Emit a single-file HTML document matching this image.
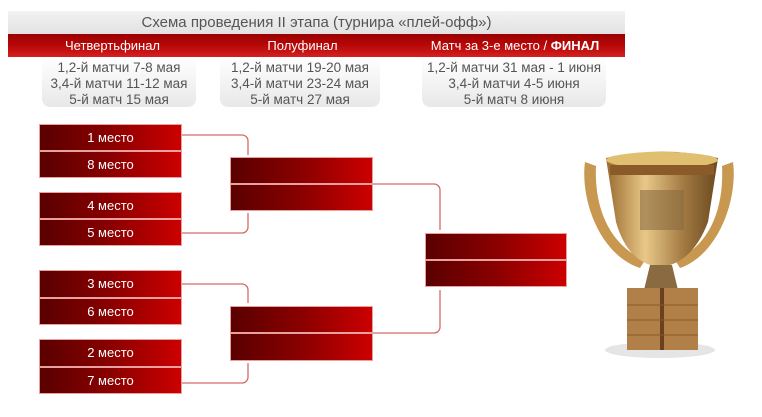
<!DOCTYPE html>
<html><head><meta charset="utf-8"><style>
body{margin:0;width:762px;height:417px;background:#fff;position:relative;overflow:hidden;font-family:"Liberation Sans",sans-serif}
.a{position:absolute}
.b{position:absolute;background:linear-gradient(90deg,#5a0000,#8a0000 50%,#cc0000);border:1px solid #e9a0a0;box-sizing:border-box;color:#fff;font-size:13px;text-align:center;line-height:25px}
.t{position:absolute;top:57px;height:50px;background:linear-gradient(180deg,#fff,#e8e8e8);border-radius:0 0 8px 8px;color:#555;font-size:13.5px;text-align:center;line-height:16px;padding-top:3px;box-sizing:border-box;white-space:nowrap}
.h{position:absolute;top:34px;height:23px;color:#fff;font-size:13px;line-height:23px;text-align:center}
</style></head><body>
<div class="a" style="left:8px;top:11px;width:617px;height:23px;background:linear-gradient(180deg,#f2f2f2,#e2e2e2);color:#555;font-size:15px;line-height:23px;text-align:center">Схема проведения II этапа (турнира «плей-офф»)</div>
<div class="a" style="left:8px;top:34px;width:617px;height:23px;background:linear-gradient(180deg,#9a0000,#b80808 50%,#d42020)"></div>
<div class="h" style="left:20px;width:185px">Четвертьфинал</div>
<div class="h" style="left:210px;width:185px">Полуфинал</div>
<div class="h" style="left:405px;width:220px">Матч за 3-е место / <b>ФИНАЛ</b></div>
<div class="t" style="left:42px;width:154px">1,2-й матчи 7-8 мая<br>3,4-й матчи 11-12 мая<br>5-й матч 15 мая</div>
<div class="t" style="left:220px;width:160px">1,2-й матчи 19-20 мая<br>3,4-й матчи 23-24 мая<br>5-й матч 27 мая</div>
<div class="t" style="left:422px;width:184px">1,2-й матчи 31 мая - 1 июня<br>3,4-й матчи 4-5 июня<br>5-й матч 8 июня</div>

<svg class="a" style="left:0;top:0" width="762" height="417">
<defs><linearGradient id="g" x1="0" x2="1"><stop offset="0" stop-color="#9a6a30"/><stop offset=".35" stop-color="#e8c888"/><stop offset=".7" stop-color="#a07840"/><stop offset="1" stop-color="#6a4820"/></linearGradient></defs>
<g fill="none" stroke="#d46a6a" stroke-width="1.3">
<path d="M182 135H242a6 6 0 0 1 6 6V155"/>
<path d="M182 233H242a6 6 0 0 0 6-6V213"/>
<path d="M182 284H242a6 6 0 0 1 6 6V303"/>
<path d="M182 383H242a6 6 0 0 0 6-6V363"/>
<path d="M373 184H434a6 6 0 0 1 6 6V230"/>
<path d="M373 333H434a6 6 0 0 0 6-6V290"/>
</g>
<g>
<ellipse cx="660" cy="350" rx="55" ry="8" fill="#ccc" opacity=".5"/>
<path d="M585 162C580 200 600 255 640 268L645 260C608 245 594 205 596 166Z" fill="#c89850"/>
<path d="M733 162C738 200 718 255 680 268L675 260C712 245 724 205 722 166Z" fill="#c89850"/>
<path d="M606 158Q660 145 718 158L708 222Q692 264 660 267Q628 264 616 222Z" fill="url(#g)"/>
<ellipse cx="662" cy="160" rx="56" ry="8" fill="#e0c070"/>
<rect x="610" y="165" width="104" height="10" fill="#8a5a28"/>
<rect x="640" y="190" width="44" height="40" fill="#8a6a40" opacity=".6"/>
<path d="M650 265H672L678 290H644Z" fill="#8a6a40"/>
<rect x="627" y="288" width="71" height="62" fill="#b08048"/>
<rect x="660" y="288" width="4" height="62" fill="#6a4020"/>
<path d="M627 305H698M627 320H698M627 335H698" stroke="#8a5a28" stroke-width="1"/>
</g>
</svg>

<div class="b" style="left:39px;top:124px;width:143px;height:27px">1 место</div>
<div class="b" style="left:39px;top:151px;width:143px;height:27px">8 место</div>
<div class="b" style="left:39px;top:192px;width:143px;height:27px">4 место</div>
<div class="b" style="left:39px;top:219px;width:143px;height:27px">5 место</div>
<div class="b" style="left:39px;top:270px;width:143px;height:28px">3 место</div>
<div class="b" style="left:39px;top:298px;width:143px;height:27px">6 место</div>
<div class="b" style="left:39px;top:339px;width:143px;height:28px">2 место</div>
<div class="b" style="left:39px;top:367px;width:143px;height:27px">7 место</div>
<div class="b" style="left:230px;top:157px;width:143px;height:27px"></div>
<div class="b" style="left:230px;top:184px;width:143px;height:27px"></div>
<div class="b" style="left:230px;top:306px;width:143px;height:27px"></div>
<div class="b" style="left:230px;top:333px;width:143px;height:28px"></div>
<div class="b" style="left:425px;top:233px;width:142px;height:27px"></div>
<div class="b" style="left:425px;top:260px;width:142px;height:27px"></div>
</body></html>
